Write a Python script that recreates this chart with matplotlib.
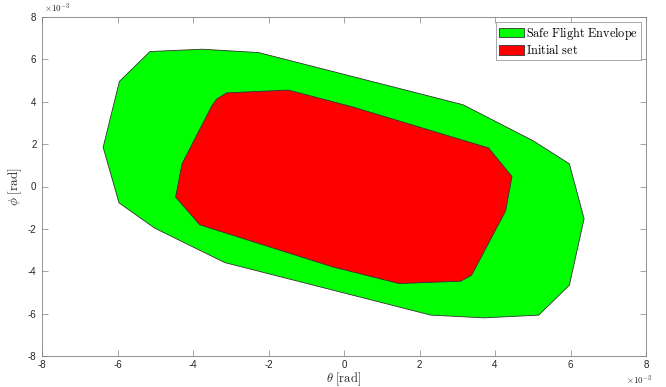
import numpy as np
import matplotlib
matplotlib.use('Agg')
import matplotlib.pyplot as plt
from matplotlib.ticker import FuncFormatter, MultipleLocator

plt.rcParams['mathtext.fontset'] = 'cm'
plt.rcParams['font.family'] = ['Liberation Sans', 'DejaVu Sans']

# polygon vertices, in units of 1e-3 rad
safe_theta = [-5.14, -3.75, -2.26, 3.15, 5.01, 5.97, 6.36, 5.97, 5.16, 3.71,
              2.30, -3.16, -5.02, -5.96, -6.38, -5.95]
safe_phi = [6.37, 6.48, 6.32, 3.86, 2.16, 1.07, -1.52, -4.66, -6.07, -6.20,
            -6.07, -3.59, -1.96, -0.77, 1.85, 4.96]

init_theta = [-3.11, -1.47, 0.22, 3.83, 4.45, 4.28, 3.38, 3.09, 1.46, -0.29,
              -3.82, -4.46, -4.29, -3.50, -3.37]
init_phi = [4.42, 4.55, 3.76, 1.82, 0.47, -1.16, -4.19, -4.47, -4.58, -3.80,
            -1.81, -0.50, 1.07, 3.81, 4.13]

scale = 1e-3
tick_color = '#262626'

fig = plt.figure(figsize=(6.66, 3.87), dpi=100)
ax = fig.add_axes([42 / 666, 31 / 387, 604 / 666, 339 / 387])

ax.fill(np.array(safe_theta) * scale, np.array(safe_phi) * scale,
        facecolor='#00ff00', edgecolor='#333333', linewidth=0.6,
        label=r'$\mathrm{Safe\ Flight\ Envelope}$')
ax.fill(np.array(init_theta) * scale, np.array(init_phi) * scale,
        facecolor='#ff0000', edgecolor='#333333', linewidth=0.6,
        label=r'$\mathrm{Initial\ set}$')

ax.set_xlim(-8e-3, 8e-3)
ax.set_ylim(-8e-3, 8e-3)
ax.xaxis.set_major_locator(MultipleLocator(2e-3))
ax.yaxis.set_major_locator(MultipleLocator(2e-3))
fmt = FuncFormatter(lambda v, p: f'{round(v * 1e3):d}')
ax.xaxis.set_major_formatter(fmt)
ax.yaxis.set_major_formatter(fmt)

ax.tick_params(direction='in', length=4, width=0.5, colors='#808080',
               labelcolor=tick_color, labelsize=7, top=True, right=True,
               pad=4)
ax.tick_params(axis='x', pad=3)
for s in ax.spines.values():
    s.set_linewidth(0.6)
    s.set_color('#808080')

ax.set_xlabel(r'$\theta\ [\mathrm{rad}]$', fontsize=9, color=tick_color,
              labelpad=0)
ax.set_ylabel(r'$\phi\ [\mathrm{rad}]$', fontsize=9.5, color=tick_color,
              labelpad=3)

fig.text(44 / 666, 1 - 8 / 387, r'$\times10^{-3}$', fontsize=6.5,
         color=tick_color, family='Liberation Sans', va='center', ha='left')
fig.text(626 / 666, 1 - 380 / 387, r'$\times10^{-3}$', fontsize=6.5,
         color=tick_color, family='Liberation Sans', va='center', ha='left')

leg = ax.legend(loc='upper right', fontsize=8.8, frameon=True, fancybox=False,
                edgecolor='#808080', borderpad=0.2, handlelength=2.1,
                handleheight=0.8, handletextpad=0.15, labelspacing=0.1,
                borderaxespad=0.45)
leg.get_frame().set_linewidth(0.6)

fig.savefig('out.png', dpi=100)
